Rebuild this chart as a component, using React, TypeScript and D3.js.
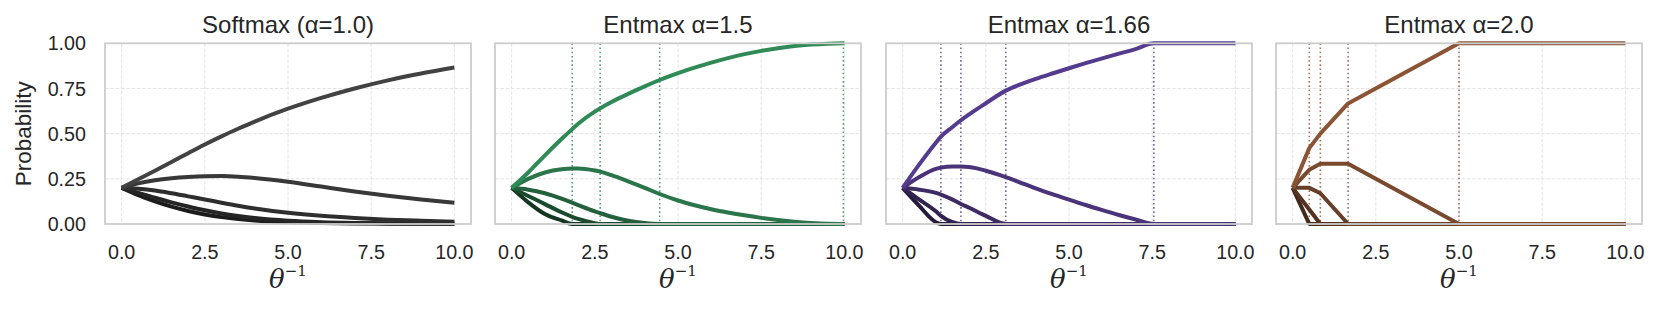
import * as d3 from 'd3';
import React from 'react';

// Panel titles and axis ticks
const panelTitles = ['Softmax (α=1.0)', 'Entmax α=1.5', 'Entmax α=1.66', 'Entmax α=2.0'];
const xTicks = [0, 2.5, 5, 7.5, 10];
const yTicks = [0, 0.25, 0.5, 0.75, 1];
const xTickLabels = ['0.0', '2.5', '5.0', '7.5', '10.0'];
const yTickLabels = ['0.00', '0.25', '0.50', '0.75', '1.00'];

// Softmax (alpha = 1.0)
const softmaxX = [0, 0.5, 1, 1.5, 2, 2.5, 3, 3.5, 4, 5, 6, 7, 8, 9, 10];
const softmaxP1 = [0.2, 0.248, 0.295, 0.343, 0.392, 0.44, 0.485, 0.527, 0.567, 0.638, 0.698, 0.75, 0.795, 0.833, 0.866];
const softmaxP2 = [0.2, 0.225, 0.242, 0.253, 0.26, 0.264, 0.265, 0.262, 0.255, 0.234, 0.207, 0.18, 0.156, 0.135, 0.117];
const softmaxP3 = [0.2, 0.195, 0.185, 0.17, 0.153, 0.136, 0.118, 0.101, 0.086, 0.062, 0.045, 0.033, 0.024, 0.018, 0.013];
const softmaxP4 = [0.2, 0.172, 0.145, 0.12, 0.097, 0.076, 0.058, 0.044, 0.033, 0.018, 0.01, 0.006, 0.004, 0.003, 0.002];
const softmaxP5 = [0.2, 0.16, 0.125, 0.096, 0.072, 0.053, 0.038, 0.028, 0.02, 0.01, 0.005, 0.003, 0.002, 0.001, 0.001];

// Entmax alpha = 1.5
const ent15X = [0, 0.5, 1, 1.5, 1.82, 2, 2.5, 2.66, 3, 3.5, 4, 4.45, 5, 5.5, 6, 6.5, 7, 7.5, 8, 8.5, 9, 9.5, 10];
const ent15P1 = [0.2, 0.285, 0.38, 0.47, 0.525, 0.555, 0.622, 0.64, 0.675, 0.72, 0.762, 0.797, 0.835, 0.865, 0.893, 0.918, 0.94, 0.958, 0.973, 0.985, 0.993, 0.998, 1.0];
const ent15P2 = [0.2, 0.25, 0.285, 0.303, 0.307, 0.307, 0.296, 0.29, 0.27, 0.236, 0.2, 0.166, 0.13, 0.104, 0.082, 0.064, 0.048, 0.034, 0.022, 0.012, 0.005, 0.001, 0];
const ent15P3 = [0.2, 0.19, 0.17, 0.14, 0.118, 0.105, 0.07, 0.06, 0.04, 0.018, 0.005, 0, 0, 0, 0, 0, 0, 0, 0, 0, 0, 0, 0];
const ent15P4 = [0.2, 0.155, 0.11, 0.065, 0.04, 0.028, 0.005, 0, 0, 0, 0, 0, 0, 0, 0, 0, 0, 0, 0, 0, 0, 0, 0];
const ent15P5 = [0.2, 0.12, 0.055, 0.02, 0, 0, 0, 0, 0, 0, 0, 0, 0, 0, 0, 0, 0, 0, 0, 0, 0, 0, 0];
const ent15Support = [1.82, 2.66, 4.45, 9.97];

// Entmax alpha = 1.66
const ent166X = [0, 0.5, 1, 1.15, 1.5, 1.75, 2, 2.5, 3.1, 3.5, 4, 4.5, 5, 5.5, 6, 6.5, 7, 7.55, 8, 9, 10];
const ent166P1 = [0.2, 0.33, 0.45, 0.483, 0.537, 0.574, 0.607, 0.668, 0.738, 0.77, 0.803, 0.833, 0.862, 0.89, 0.917, 0.943, 0.968, 1, 1, 1, 1];
const ent166P2 = [0.2, 0.26, 0.305, 0.312, 0.318, 0.318, 0.315, 0.295, 0.26, 0.232, 0.197, 0.165, 0.135, 0.105, 0.077, 0.05, 0.025, 0, 0, 0, 0];
const ent166P3 = [0.2, 0.19, 0.172, 0.163, 0.135, 0.111, 0.09, 0.045, 0, 0, 0, 0, 0, 0, 0, 0, 0, 0, 0, 0, 0];
const ent166P4 = [0.2, 0.135, 0.07, 0.045, 0.01, 0, 0, 0, 0, 0, 0, 0, 0, 0, 0, 0, 0, 0, 0, 0, 0];
const ent166P5 = [0.2, 0.1, 0.01, 0, 0, 0, 0, 0, 0, 0, 0, 0, 0, 0, 0, 0, 0, 0, 0, 0, 0];
const ent166Support = [1.15, 1.75, 3.1, 7.55];

// Entmax alpha = 2.0 (sparsemax, piecewise linear)
const sparseX = [0, 0.5, 0.833, 1.667, 5, 10];
const sparseP1 = [0.2, 0.42, 0.5, 0.667, 1, 1];
const sparseP2 = [0.2, 0.3, 0.333, 0.333, 0, 0];
const sparseP3 = [0.2, 0.2, 0.17, 0, 0, 0];
const sparseP4 = [0.2, 0.08, 0, 0, 0, 0];
const sparseP5 = [0.2, 0, 0, 0, 0, 0];
const sparseSupport = [0.5, 0.833, 1.667, 5.0];

// palettes: top series first, darkest last
const greyShades = ['#424242', '#383838', '#2e2e2e', '#252525', '#1c1c1c'];
const greenShades = ['#2f8a56', '#2a7549', '#23603c', '#1b4b2f', '#133723'];
const purpleShades = ['#553b8e', '#4a3379', '#3e2b64', '#32224f', '#261a3b'];
const brownShades = ['#8b5535', '#794a2e', '#663f28', '#543421', '#42291a'];

const panels = [
    { x: softmaxX, series: [softmaxP1, softmaxP2, softmaxP3, softmaxP4, softmaxP5], colors: greyShades, support: [] as number[], smooth: true },
    { x: ent15X, series: [ent15P1, ent15P2, ent15P3, ent15P4, ent15P5], colors: greenShades, support: ent15Support, smooth: true },
    { x: ent166X, series: [ent166P1, ent166P2, ent166P3, ent166P4, ent166P5], colors: purpleShades, support: ent166Support, smooth: true },
    { x: sparseX, series: [sparseP1, sparseP2, sparseP3, sparseP4, sparseP5], colors: brownShades, support: sparseSupport, smooth: false },
];

// layout
const width = 1660;
const height = 309;
const panelLefts = [105, 495, 886, 1276];
const panelW = 366;
const top = 43.3;
const bottom = 224;
const font = '"Liberation Sans", Arial, sans-serif';
const textColor = '#262626';

function Panel({ idx }: { idx: number }) {
    const p = panels[idx];
    const left = panelLefts[idx];
    const x = d3.scaleLinear().domain([-0.5, 10.5]).range([left, left + panelW]);
    const y = d3.scaleLinear().domain([0, 1]).range([bottom, top]);

    const line = d3.line<[number, number]>()
        .x((d) => x(d[0]))
        .y((d) => y(d[1]))
        .curve(p.smooth ? d3.curveMonotoneX : d3.curveLinear);

    const cx = left + panelW / 2;

    return (
        <g>
            {/* grid */}
            {xTicks.map((t) => (
                <line key={'gx' + t} x1={x(t)} x2={x(t)} y1={top} y2={bottom}
                    stroke="#e4e4e4" strokeWidth={1} strokeDasharray="3.7,1.6" />
            ))}
            {yTicks.slice(1, -1).map((t) => (
                <line key={'gy' + t} x1={left} x2={left + panelW} y1={y(t)} y2={y(t)}
                    stroke="#e4e4e4" strokeWidth={1} strokeDasharray="3.7,1.6" />
            ))}

            {/* support thresholds */}
            {p.support.map((s, i) => (
                <line key={'s' + i} x1={x(s)} x2={x(s)} y1={y(1)} y2={y(0)}
                    stroke={p.colors[0]} strokeOpacity={0.8} strokeWidth={1.6} strokeDasharray="1.6,2.6" />
            ))}

            {/* curves */}
            {p.series.map((vals, i) => {
                const pts: [number, number][] = p.x.map((xv, j) => [xv, vals[j]]);
                return (
                    <path key={'c' + i} d={line(pts) || ''} fill="none" stroke={p.colors[i]}
                        strokeWidth={4} strokeLinejoin="round" strokeLinecap="butt" />
                );
            }).reverse()}

            {/* frame */}
            <rect x={left} y={top} width={panelW} height={bottom - top} fill="none" stroke="#cccccc" strokeWidth={1.8} />

            {/* x ticks */}
            {xTicks.map((t, i) => (
                <text key={'xt' + t} x={x(t)} y={258.5} textAnchor="middle" fontSize={19.7}
                    fontFamily={font} fill={textColor}>{xTickLabels[i]}</text>
            ))}

            {/* x label */}
            <text x={cx} y={288} textAnchor="middle" fill={textColor} fontFamily='"DejaVu Serif", serif'>
                <tspan fontStyle="italic" fontSize={26}>θ</tspan>
                <tspan fontSize={15} dy={-12}>−1</tspan>
            </text>

            {/* title */}
            <text x={cx} y={32.5} textAnchor="middle" fontSize={24} fontFamily={font} fill={textColor}>
                {panelTitles[idx]}
            </text>

            {/* y ticks only on first panel */}
            {idx === 0 && yTicks.map((t, i) => (
                <text key={'yt' + t} x={86} y={y(t)} dy="0.36em" textAnchor="end" fontSize={19.7}
                    fontFamily={font} fill={textColor}>{yTickLabels[i]}</text>
            ))}
            {idx === 0 && (
                <text transform={`translate(31,${(top + bottom) / 2}) rotate(-90)`} textAnchor="middle"
                    fontSize={22.5} fontFamily={font} fill={textColor}>Probability</text>
            )}
        </g>
    );
}

export default function App() {
    return (
        <svg width={width} height={height} style={{ position: 'absolute', left: 0, top: 0, background: 'white' }}>
            <rect width={width} height={height} fill="white" />
            {panels.map((_, i) => <Panel key={i} idx={i} />)}
        </svg>
    );
}
